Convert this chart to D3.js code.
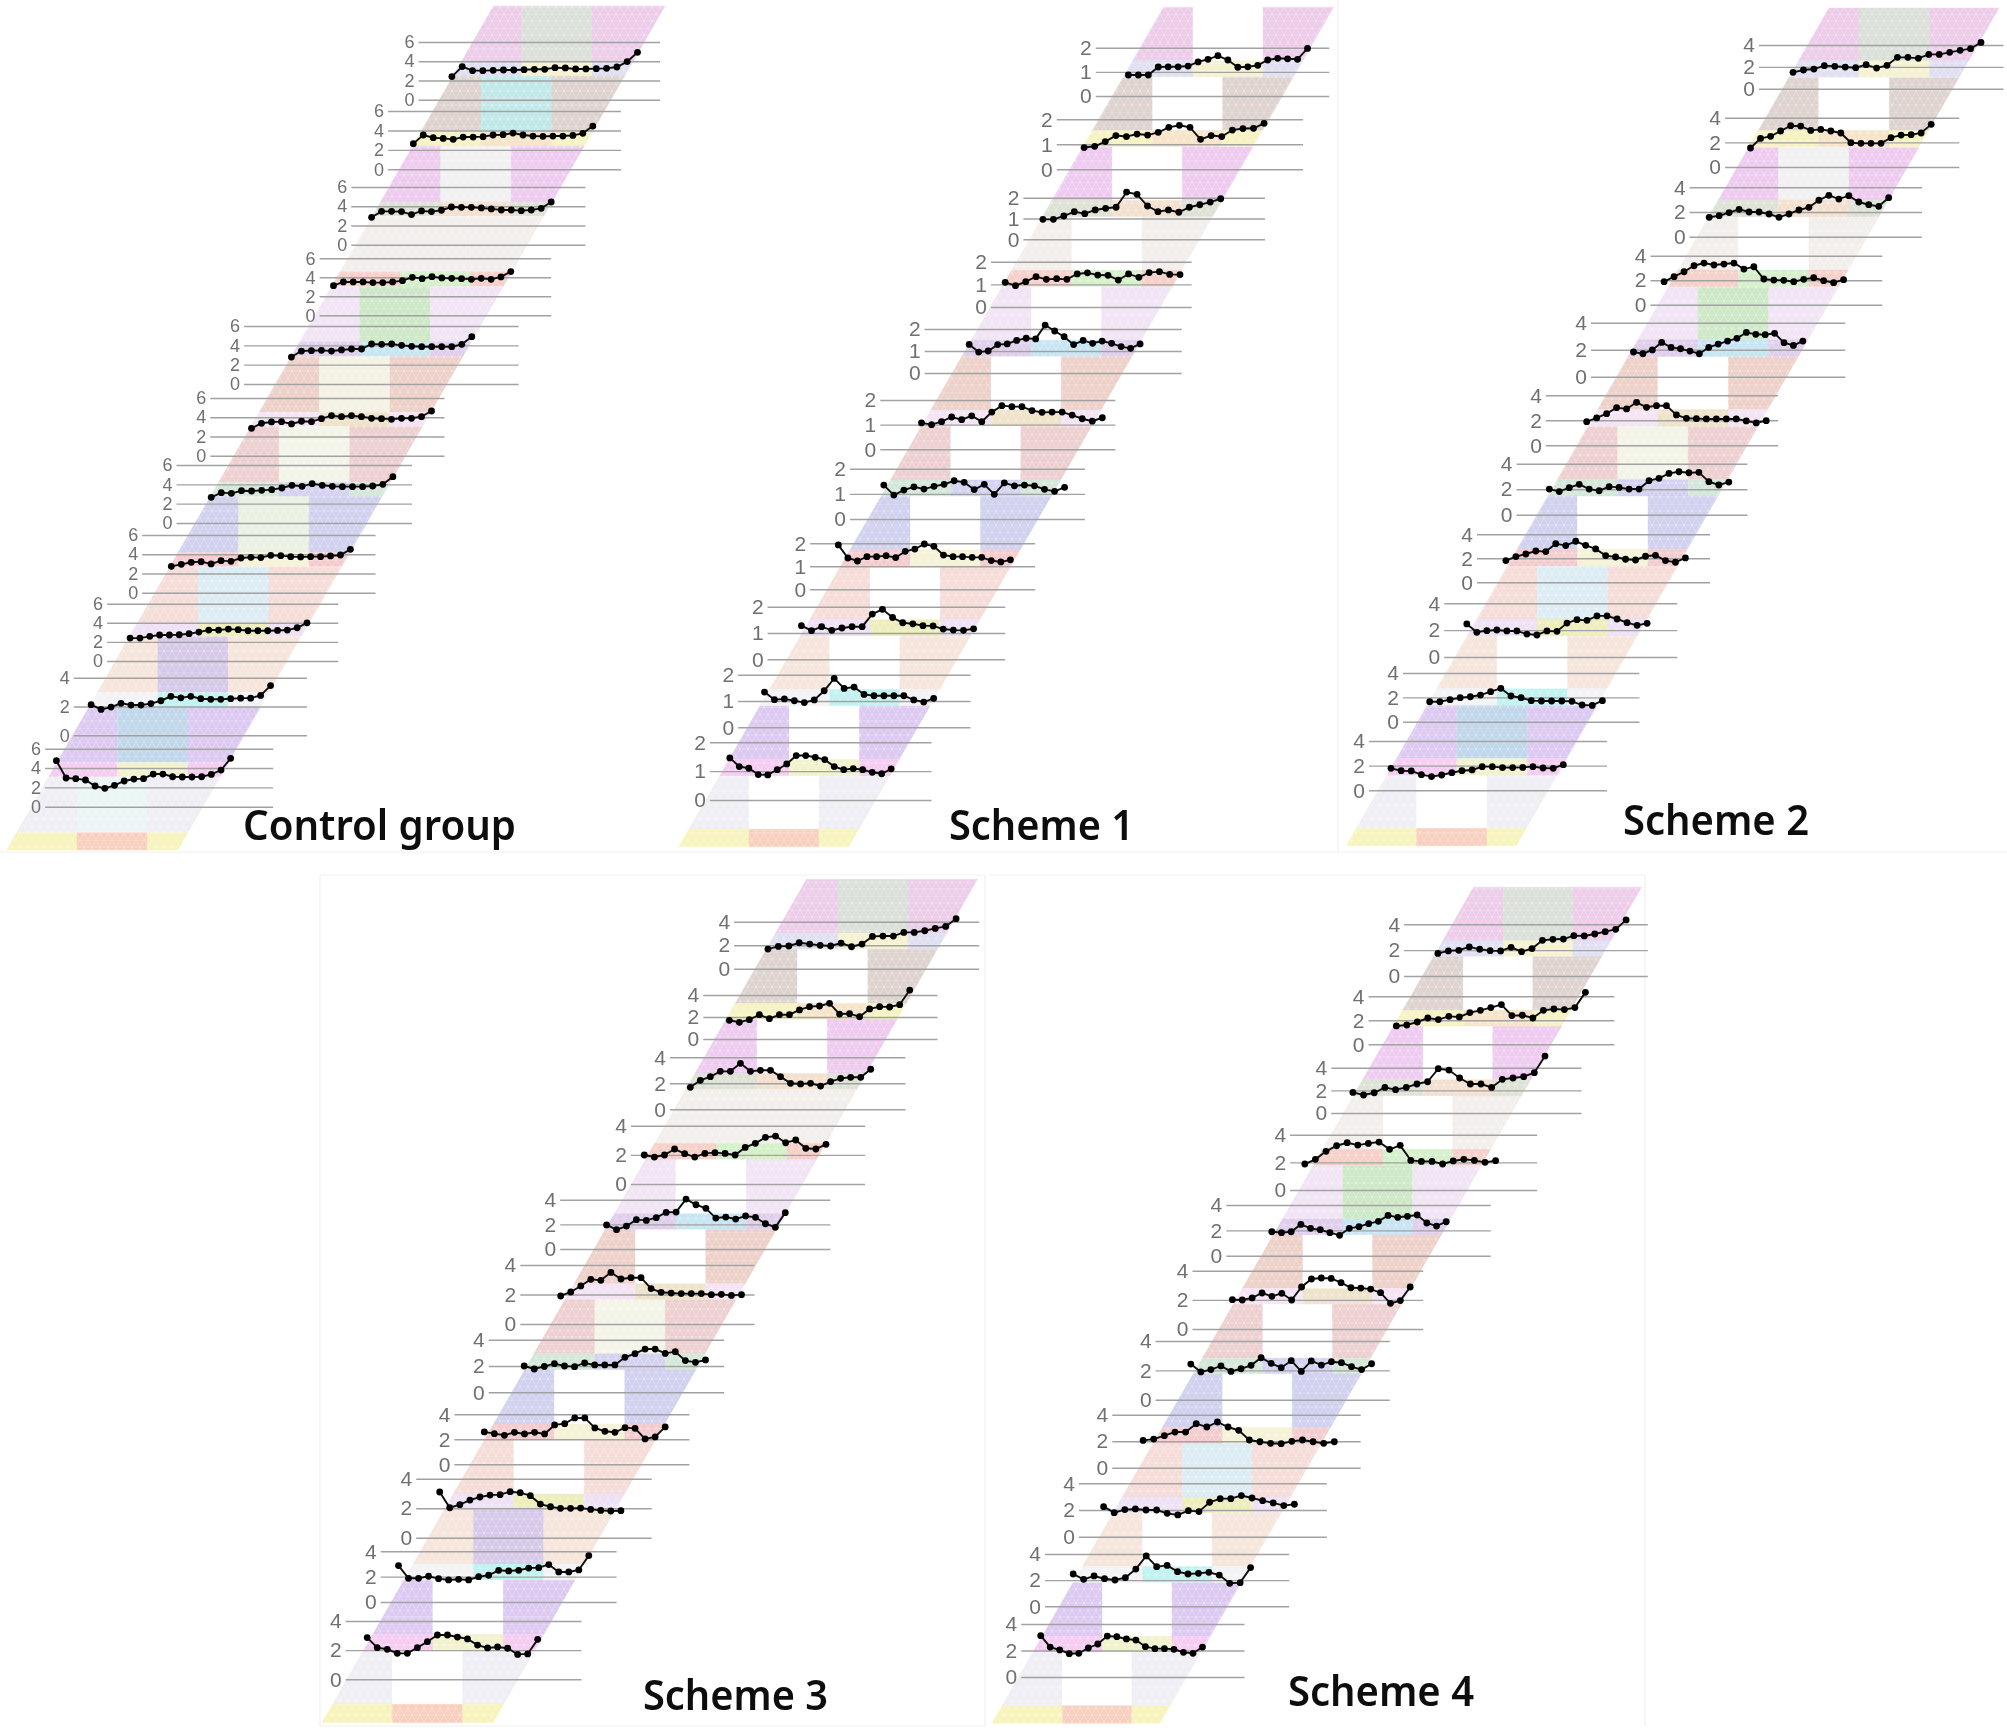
<!DOCTYPE html>
<html>
<head>
<meta charset="utf-8">
<script src="https://cdn.jsdelivr.net/npm/d3@7"></script>
<style>
body { margin: 0; background: #fff; }
svg { display: block; }
</style>
</head>
<body>
<script>
// values, top row of each staircase first
let controlValues = [
  [2.4,3.44,3.02,3.02,3.05,3.09,3.09,3.12,3.16,3.16,3.33,3.3,3.2,3.2,3.23,3.26,3.4,3.96,4.93],
  [2.64,3.53,3.25,3.18,3.08,3.32,3.32,3.36,3.53,3.56,3.73,3.53,3.42,3.39,3.42,3.42,3.49,3.7,4.45],
  [2.85,3.47,3.47,3.44,3.13,3.51,3.44,3.58,3.92,3.89,3.89,3.82,3.72,3.61,3.61,3.54,3.61,3.78,4.44],
  [3.12,3.51,3.51,3.51,3.44,3.44,3.51,3.65,4.0,3.86,4.07,3.93,3.89,3.86,3.79,3.89,3.79,4.04,4.6],
  [2.79,3.41,3.45,3.48,3.41,3.52,3.62,3.62,4.14,4.1,4.14,4.0,3.9,3.86,3.86,3.86,3.86,4.1,4.9],
  [2.85,3.37,3.51,3.54,3.3,3.58,3.54,3.85,4.17,4.06,4.17,4.06,3.89,3.85,3.78,3.89,3.89,4.06,4.65],
  [2.66,3.14,3.07,3.34,3.31,3.38,3.45,3.62,3.9,3.79,4.07,3.9,3.79,3.76,3.76,3.76,3.83,4.0,4.79],
  [2.74,2.95,3.16,3.23,2.99,3.33,3.26,3.61,3.68,3.65,3.89,3.85,3.75,3.72,3.75,3.75,3.82,3.92,4.51],
  [2.4,2.4,2.58,2.72,2.72,2.75,2.86,3.03,3.24,3.24,3.34,3.28,3.17,3.17,3.17,3.2,3.24,3.48,4.0],
  [2.13,1.8,1.96,2.22,2.1,2.1,2.2,2.4,2.71,2.6,2.71,2.54,2.5,2.5,2.54,2.58,2.58,2.77,3.45],
  [4.76,2.97,2.9,2.76,2.14,1.9,2.21,2.66,2.86,2.9,3.38,3.38,3.1,3.07,3.07,3.1,3.34,3.79,5.0]
]
let scheme1Values = [
  [.87,.87,.87,1.2,1.21,1.21,1.24,1.41,1.52,1.67,1.49,1.19,1.21,1.27,1.49,1.56,1.54,1.52,1.97],
  [.87,.92,1.11,1.35,1.31,1.41,1.37,1.48,1.68,1.76,1.68,1.2,1.35,1.31,1.57,1.63,1.64,1.84],
  [.96,.96,1.12,1.33,1.23,1.41,1.49,1.54,2.27,2.16,1.6,1.33,1.41,1.3,1.54,1.66,1.79,1.95],
  [1.09,.94,1.12,1.34,1.22,1.25,1.22,1.46,1.51,1.41,1.4,1.19,1.46,1.31,1.52,1.56,1.44,1.43],
  [1.3,.95,1.0,1.29,1.32,1.48,1.58,1.55,2.18,1.91,1.65,1.29,1.48,1.35,1.45,1.35,1.2,1.12,1.32],
  [1.07,1.0,1.12,1.31,1.2,1.36,1.12,1.51,1.77,1.73,1.73,1.57,1.5,1.51,1.51,1.39,1.24,1.14,1.28],
  [1.35,.95,1.15,1.28,1.19,1.3,1.38,1.52,1.46,1.17,1.38,.98,1.44,1.32,1.35,1.32,1.18,1.1,1.26],
  [1.93,1.36,1.23,1.42,1.42,1.46,1.38,1.65,1.75,1.97,1.87,1.49,1.42,1.42,1.39,1.39,1.25,1.19,1.28],
  [1.28,1.09,1.24,1.1,1.19,1.24,1.24,1.72,1.9,1.59,1.39,1.35,1.28,1.27,1.15,1.11,1.1,1.16],
  [1.34,1.05,1.08,1.01,.94,1.04,1.39,1.86,1.48,1.53,1.25,1.2,1.2,1.2,1.2,1.04,.96,1.1],
  [1.46,1.16,1.1,.88,.87,1.05,1.25,1.54,1.54,1.48,1.4,1.16,1.05,1.09,1.05,.96,.91,1.08]
]
let scheme2Values = [
  [1.5,1.71,1.8,2.11,2.05,1.98,1.92,2.2,1.89,2.14,2.87,2.87,2.78,3.14,3.14,3.33,3.51,3.66,4.24],
  [1.54,2.32,2.49,2.92,3.35,3.32,2.97,3.05,2.92,2.76,1.97,1.92,1.92,1.92,2.38,2.59,2.62,2.76,3.46],
  [1.57,1.7,1.95,2.22,2.0,2.0,1.84,1.57,1.84,2.16,2.38,2.95,3.35,3.05,3.32,2.81,2.59,2.46,3.16],
  [1.88,2.29,2.69,3.18,3.4,3.24,3.32,3.4,2.91,3.1,2.1,2.01,1.99,1.88,2.07,2.2,1.96,1.8,2.04],
  [1.83,1.7,1.98,2.54,2.17,2.07,1.9,1.7,2.17,2.42,2.64,2.84,3.28,3.14,3.11,3.21,2.52,2.32,2.64],
  [1.89,2.19,2.53,3.01,2.91,3.44,3.04,3.17,3.17,2.43,2.16,2.13,2.11,2.11,2.11,2.11,1.95,1.79,1.97],
  [2.01,1.81,2.12,2.38,2.01,1.88,2.2,2.14,2.01,2.01,2.67,2.85,3.24,3.37,3.29,3.32,2.59,2.33,2.56],
  [1.81,2.14,2.36,2.61,2.56,3.22,3.06,3.42,3.08,2.78,2.22,2.11,1.92,1.86,2.17,2.25,1.81,1.67,2.03],
  [2.46,1.84,1.96,2.01,1.94,1.94,1.71,1.64,1.94,1.91,2.53,2.78,2.73,3.06,3.06,2.83,2.56,2.36,2.51],
  [1.64,1.64,1.81,1.97,2.05,2.19,2.47,2.74,2.11,1.97,1.73,1.7,1.7,1.7,1.67,1.37,1.34,1.73],
  [1.78,1.59,1.57,1.27,1.11,1.24,1.43,1.59,1.65,1.92,1.92,1.84,1.84,1.86,1.92,1.81,1.78,2.08]
]
let scheme3Values = [
  [1.67,1.9,1.93,2.21,2.1,1.99,1.93,2.18,1.87,2.1,2.75,2.78,2.78,3.09,3.09,3.23,3.43,3.6,4.26],
  [1.7,1.52,1.76,2.21,1.85,2.21,2.21,2.64,2.94,3.0,3.24,2.27,2.3,2.03,2.73,2.94,2.91,3.12,4.45],
  [1.69,2.23,2.51,2.92,2.92,3.54,2.92,3.0,3.0,2.51,2.0,1.95,2.0,1.79,2.13,2.38,2.46,2.46,3.08],
  [1.99,1.85,1.99,2.4,2.08,1.85,2.1,2.15,2.1,1.99,2.51,2.79,3.2,3.29,2.83,3.02,2.45,2.4,2.72],
  [1.95,1.57,1.86,2.38,2.32,2.54,2.97,3.0,4.05,3.59,3.3,2.51,2.59,2.43,2.68,2.57,2.05,1.76,2.95],
  [1.9,2.17,2.58,3.03,2.96,3.5,3.05,3.14,3.14,2.4,2.15,2.1,2.06,2.06,2.06,1.99,2.01,1.94,1.99],
  [2.0,1.77,1.97,2.18,2.0,1.95,2.23,2.08,2.08,2.08,2.66,2.94,3.29,3.29,2.96,3.09,2.41,2.28,2.46],
  [2.59,2.45,2.32,2.56,2.43,2.56,2.43,3.15,3.25,3.71,3.71,2.91,2.64,2.56,2.93,2.88,2.03,2.19,2.99],
  [3.1,2.03,2.24,2.55,2.76,2.89,2.92,3.12,3.05,2.85,2.28,2.1,1.99,1.99,2.01,1.92,1.85,1.81,1.83],
  [2.87,1.87,1.87,2.03,1.84,1.74,1.79,1.74,2.0,2.11,2.5,2.45,2.5,2.68,2.71,2.95,2.37,2.37,2.53,3.66],
  [2.86,2.17,2.06,1.78,1.78,2.17,2.58,3.04,3.04,2.9,2.77,2.35,2.15,2.22,2.13,1.71,1.74,2.74]
]
let scheme4Values = [
  [1.75,1.94,1.99,2.25,2.07,1.96,1.94,2.22,1.88,2.12,2.76,2.84,2.86,3.12,3.1,3.25,3.43,3.61,4.34],
  [1.53,1.61,1.86,2.19,2.06,2.33,2.28,2.64,2.83,3.06,3.31,2.39,2.42,2.19,2.83,2.94,2.89,3.06,4.33],
  [1.82,1.59,1.79,2.26,2.06,2.26,2.56,2.76,3.91,3.79,3.09,2.56,2.56,2.26,2.97,3.09,3.21,3.56,5.03],
  [1.88,2.22,2.8,3.2,3.42,3.25,3.37,3.47,2.94,3.23,2.14,2.07,2.07,1.88,2.1,2.22,2.14,2.0,2.12],
  [1.89,1.82,1.89,2.47,2.16,2.05,1.82,1.61,2.16,2.29,2.53,2.71,3.18,3.03,3.11,3.21,2.58,2.34,2.68],
  [2.01,1.99,2.13,2.47,2.24,2.45,1.99,2.88,3.43,3.5,3.47,3.18,2.83,2.81,2.74,2.49,1.76,1.95,2.88],
  [2.43,1.89,2.05,2.3,1.93,2.11,2.34,2.86,2.48,2.18,2.66,1.93,2.64,2.36,2.59,2.52,2.25,2.05,2.45],
  [2.06,2.16,2.42,2.69,2.69,3.32,3.07,3.45,3.07,2.82,2.09,1.96,1.84,1.81,1.99,2.09,1.96,1.84,1.96],
  [2.25,1.8,2.03,2.08,2.0,2.0,1.75,1.63,1.95,1.88,2.58,2.85,2.85,3.08,2.9,2.7,2.53,2.33,2.43],
  [2.47,2.06,2.32,2.11,2.01,2.19,2.85,3.85,3.03,3.13,2.65,2.47,2.52,2.6,2.39,1.76,1.81,2.96],
  [3.12,2.26,2.04,1.76,1.79,2.19,2.49,3.09,3.04,2.87,2.79,2.29,2.14,2.14,2.09,1.86,1.79,2.26]
]

let controlTicks = [[0,2,4,6],[0,2,4,6],[0,2,4,6],[0,2,4,6],[0,2,4,6],[0,2,4,6],[0,2,4,6],[0,2,4,6],[0,2,4,6],[0,2,4],[0,2,4,6]]
let scheme1Ticks = d3.range(11).map(() => [0,1,2])
let schemeTicks = d3.range(11).map(() => [0,2,4])

// floor colours, top group first. strips are the same in all five panels
let stripSide = ["#dfdff2","#f6f2c2","#dce1d4","#f6cfc8","#dfcdec","#f4e3f5","#d3e7d8","#f3cbce","#eee0f5","#f3f3f6","#f5cbf1","#f7f4bb"]
let stripMid = ["#f6f1d0","#f6e3c8","#f3dfce","#d3f0c8","#c6e5f2","#eee2c8","#d3d1f0","#f5f2d6","#ecedba","#bff2f0","#f1f2cc","#f8cfbe"]
let blockSide = ["#edcce9","#ddd2ce","#eecaf0","#f2eeec","#f1e4f4","#edd0c8","#edcfcf","#d0d0ef","#f5dcd8","#f6e5da","#dcc9f1","#eeeef4"]
let controlMid = ["#dadfd8","#bfe8e8","#f1f1f1","#f2eeec","#cde8c6","#f4f2e4","#f3f4e8","#e9f1e2","#dcecf4","#d6c8e8","#c0d6ea","#ebf5f5"]
let scheme1Mid = ["#fff","#fff","#fff","#fff","#fff","#fff","#fff","#fff","#fff","#fff","#fff","#fff"]
let scheme2Mid = ["#dadfd8","#fff","#f1f1f1","#fff","#cde8c6","#fff","#f3f4e8","#fff","#dcecf4","#fff","#c0d6ea","#fff"]
let scheme3Mid = ["#dadfd8","#fff","#fff","#f2eeec","#fff","#fff","#f3f4e8","#fff","#fff","#d6c8e8","#fff","#fff"]
let scheme4Mid = ["#dadfd8","#fff","#fff","#fff","#cde8c6","#fff","#fff","#fff","#dcecf4","#fff","#fff","#fff"]

// layout only: gridLeft, gridRight, y of zero, y of top tick, first point x, last point x
let controlRows = [
  [418.5,660,99.7,42,451.9,637.5],[388.1,621,169.3,111,413.3,592.8],[351.3,585.4,244.7,187,371.6,551.2],
  [319.6,551.2,315.3,258.3,333.5,510.8],[244.1,518.6,384,326,291.4,471.8],[210.3,444.5,455.7,398,251.5,431.5],
  [176.5,412,523,465,211.2,392.9],[142.2,375.5,592.7,535,171.3,350.4],[107.1,338.2,661,603.7,130.1,307],
  [73.7,307,735.3,677.7,91.1,270.6],[45.1,273.2,806.7,748.7,56.4,230.7]
]
let scheme1Rows = [
  [1095.8,1329.2,96,47.7,1128.4,1307.5],[1056.8,1303.1,169.3,119.3,1084.1,1264.1],[1023.4,1265,239.3,197.7,1042.9,1220.7],
  [990.9,1191.7,307,261.7,1005.2,1180],[924.6,1181.7,373,329,969.2,1140.1],[880.3,1115.4,449.3,400,921.5,1102.3],
  [850,1085,519,468.7,883.8,1064.6],[810.1,1035.1,589.3,543.3,838.3,1010.4],[767.6,1005.2,659.3,606.7,801.4,973.6],
  [738.1,970.5,727.3,674.7,764.5,933.7],[709.9,931.5,800,742.3,729.8,891.2]
]
let scheme2Rows = [
  [1759,2003.5,88.7,45,1793,1981],[1725,1959.3,167,117.7,1750.5,1931.2],[1689.6,1921.9,236.7,187.3,1709.2,1888.7],
  [1650.5,1882.3,304.7,255.7,1664.1,1843.6],[1591,1845.3,376.7,322.7,1633.5,1802.8],[1545.9,1778.1,445.3,395.3,1586.7,1766.2],
  [1516.5,1747.5,514.7,463.7,1549.3,1728.8],[1477,1710,582.3,534.3,1505.9,1685.4],[1444.2,1677.3,657,603.3,1466.8,1647.1],
  [1403,1639.4,721.7,673,1429.7,1602.4],[1368.9,1607.1,790.3,741,1391,1563.3]
]
let scheme3Rows = [
  [734.1,979.1,968.7,921.7,767.9,956.1],[703.3,937.5,1039,995,729.3,909.7],[669.9,905.4,1109.3,1057.3,690.3,870.7],
  [630.9,865.1,1184,1125.7,644.3,826],[560.2,830.4,1249,1199.7,606.6,785.3],[520.3,754.5,1324,1265,560.7,741.5],
  [488.7,724.1,1392.3,1339.7,524.2,705.5],[454.4,689.4,1464.3,1414.3,484.3,665.2],[416.2,651.7,1537.7,1478.7,439.7,620.9],
  [380.7,616.6,1602,1551.3,398.5,588.8],[345.6,581.5,1679.3,1621,367.2,537.7]
]
let scheme4Rows = [
  [1404.1,1647.8,976,924.3,1437.9,1626.1],[1368.5,1614.4,1044.3,996.3,1396.3,1585.4],[1331.3,1581.5,1113,1067.7,1352.9,1545],
  [1290.1,1537.2,1190,1134.7,1304.8,1495.6],[1226.3,1490.8,1255.7,1205,1271.8,1446.2],[1192.5,1423.2,1329,1270.7,1232.4,1410.2],
  [1155.6,1389.8,1399.7,1341,1190.8,1371.6],[1112.3,1360.7,1467.7,1414.7,1143.1,1334.3],[1078.9,1326.9,1536.7,1483.3,1103.6,1294.4],
  [1045,1289.2,1606.3,1554,1073.2,1250.6],[1021.2,1244.5,1677,1624,1040.7,1202.5]
]

let panels = [
  {name:"Control group", values:controlValues, ticks:controlTicks, rows:controlRows, mid:controlMid, bandTop:6, bandBottom:850, left:6.5, topLeft:493.5, bandW:171.5, midBottom:77, midTop:521.5, midW:70.5, strip0:61.7, stripN:832.7, titleX:243, titleY:840, titleW:273, labelSize:18},
  {name:"Scheme 1", values:scheme1Values, ticks:scheme1Ticks, rows:scheme1Rows, mid:scheme1Mid, bandTop:7.3, bandBottom:846.7, left:678.7, topLeft:1163.5, bandW:170, midBottom:749, midTop:1193, midW:70, strip0:60.7, stripN:829.3, titleX:949, titleY:840, titleW:185, labelSize:21},
  {name:"Scheme 2", values:scheme2Values, ticks:schemeTicks, rows:scheme2Rows, mid:scheme2Mid, bandTop:8, bandBottom:845.7, left:1346.4, topLeft:1829, bandW:170, midBottom:1416.6, midTop:1859, midW:70.5, strip0:60.7, stripN:828.3, titleX:1623, titleY:835, titleW:186, labelSize:21},
  {name:"Scheme 3", values:scheme3Values, ticks:schemeTicks, rows:scheme3Rows, mid:scheme3Mid, bandTop:879.3, bandBottom:1722.7, left:322, topLeft:806.5, bandW:171, midBottom:392.4, midTop:838, midW:70.3, strip0:933.3, stripN:1704.3, titleX:643, titleY:1710, titleW:185, labelSize:21},
  {name:"Scheme 4", values:scheme4Values, ticks:schemeTicks, rows:scheme4Rows, mid:scheme4Mid, bandTop:887.3, bandBottom:1723.3, left:992, topLeft:1473.5, bandW:168, midBottom:1062.4, midTop:1503.4, midW:69.5, strip0:940.7, stripN:1705.7, titleX:1288, titleY:1706, titleW:186, labelSize:21}
]

// faint frames left over round each panel
let frameLines = [
  [0,852,2007,852],[320,875,985,875],[320,875,320,1726],[320,1726,985,1726],
  [990,875,1645,875],[1645,875,1645,1726],[985,875,985,1726],[1338,0,1338,852]
]

let svg = d3.select("body").append("svg").attr("width", 2007).attr("height", 1733)
let defs = svg.append("defs")
defs.append("filter").attr("id", "soft")
  .attr("filterUnits", "userSpaceOnUse").attr("x", 0).attr("y", 0).attr("width", 2007).attr("height", 1733)
  .append("feGaussianBlur").attr("stdDeviation", 0.6)
let mesh = defs.append("pattern").attr("id", "mesh").attr("patternUnits", "userSpaceOnUse").attr("width", 8).attr("height", 14)
mesh.append("path").attr("d", "M0 0L8 0M0 7L8 7M0 0L4 7L0 14M8 0L4 7L8 14")
  .attr("fill", "none").attr("stroke", "#fff").attr("stroke-opacity", 0.32).attr("stroke-width", 0.8)

let root = svg.append("g").attr("filter", "url(#soft)")

root.selectAll(".frame").data(frameLines).join("line").attr("class", "frame")
  .attr("x1", d => d[0]).attr("y1", d => d[1]).attr("x2", d => d[2]).attr("y2", d => d[3])
  .attr("stroke", "#f1f1f1").attr("stroke-width", 1.2)

let poly = d3.line()

function drawFloor(g, p) {
  let edge = d3.scaleLinear([p.bandBottom, p.bandTop], [p.left, p.topLeft])
  let midX = d3.scaleLinear([11, 0], [p.midBottom, p.midTop])
  let stripTop = d3.scaleLinear([0, 11], [p.strip0, p.stripN])
  let stripH = (p.stripN - p.strip0) / 11 - (p.strip0 - p.bandTop)
  let cells = []
  d3.range(12).forEach(i => {
    let s0 = stripTop(i), s1 = i == 11 ? p.bandBottom : s0 + stripH
    let b0 = i == 0 ? p.bandTop : stripTop(i - 1) + stripH
    cells.push({i, t:b0, b:s0, side:blockSide[i], mid:p.mid[i]})
    cells.push({i, t:s0, b:s1, side:stripSide[i], mid:stripMid[i]})
  })
  let floor = g.append("g")
  cells.forEach(c => {
    let x0 = midX(c.i), x1 = x0 + p.midW
    let l0 = edge(c.t), l1 = edge(c.b)
    let shapes = [
      {fill:c.side, pts:[[l0,c.t],[x0,c.t],[x0,c.b],[l1,c.b]]},
      {fill:c.mid, pts:[[x0,c.t],[x1,c.t],[x1,c.b],[x0,c.b]]},
      {fill:c.side, pts:[[x1,c.t],[l0+p.bandW,c.t],[l1+p.bandW,c.b],[x1,c.b]]}
    ]
    floor.selectAll(null).data(shapes).join("path")
      .attr("d", d => poly(d.pts) + "Z")
      .attr("fill", d => d.fill)
      .attr("stroke", d => d.fill).attr("stroke-width", 0.4)
  })
  let corners = [[edge(p.bandTop),p.bandTop],[edge(p.bandTop)+p.bandW,p.bandTop],[edge(p.bandBottom)+p.bandW,p.bandBottom],[edge(p.bandBottom),p.bandBottom]]
  floor.append("path").attr("d", poly(corners) + "Z").attr("fill", "url(#mesh)")
}

function drawRow(g, p, i) {
  let [gridL, gridR, zeroY, topY, firstX, lastX] = p.rows[i]
  let values = p.values[i]
  let ticks = p.ticks[i]
  let x = d3.scalePoint(d3.range(values.length), [firstX, lastX])
  let y = d3.scaleLinear([0, d3.max(ticks)], [zeroY, topY])

  let axis = d3.axisLeft(y).tickValues(ticks).tickFormat(d3.format("d"))
    .tickSize(-(gridR - gridL)).tickPadding(4)
  let a = g.append("g").attr("transform", "translate(" + gridL + ",0)").call(axis)
  a.select(".domain").remove()
  a.selectAll("line").attr("stroke", "#a2a2a2").attr("stroke-width", 1.4)
  a.selectAll("text").attr("fill", "#707070").attr("font-family", "Liberation Sans Narrow, Liberation Sans")
    .attr("font-size", p.labelSize)

  let line = d3.line().x((d, j) => x(j)).y(d => y(d))
  g.append("path").datum(values).attr("d", line)
    .attr("fill", "none").attr("stroke", "#111").attr("stroke-width", 1.9)
  g.selectAll(".pt").data(values).join("circle").attr("class", "pt")
    .attr("cx", (d, j) => x(j)).attr("cy", d => y(d)).attr("r", 3.4).attr("fill", "#000")
}

panels.forEach(p => {
  let g = root.append("g")
  drawFloor(g, p)
  d3.range(11).forEach(i => drawRow(g.append("g"), p, i))
  g.append("text").attr("x", p.titleX).attr("y", p.titleY).text(p.name)
    .attr("font-family", "Noto Sans").attr("font-weight", 600)
    .attr("font-size", 41).attr("fill", "#111")
    .attr("textLength", p.titleW).attr("lengthAdjust", "spacingAndGlyphs")
})
</script>
</body>
</html>
